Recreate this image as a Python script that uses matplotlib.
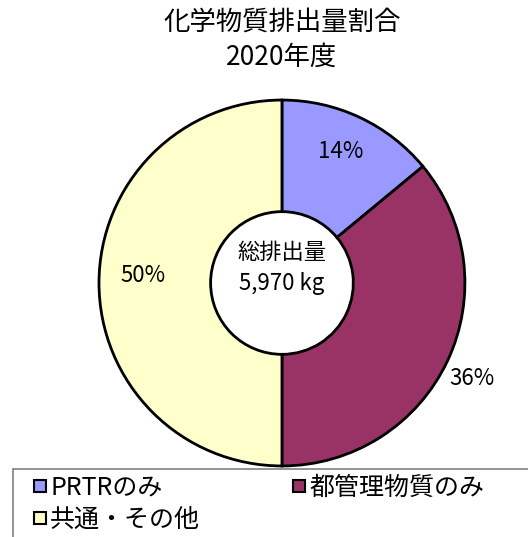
import matplotlib.pyplot as plt
from matplotlib.lines import Line2D
from matplotlib.patches import Rectangle

plt.rcParams['font.family'] = ['Noto Sans CJK JP', 'DejaVu Sans']

labels = ["PRTRのみ", "都管理物質のみ", "共通・その他"]
shares = [14, 36, 50]
colors = ["#9999FF", "#993366", "#FFFFCC"]
pct_text = ["14%", "36%", "50%"]
label_pos = [(0.32, 0.72), (1.04, -0.52), (-0.76, 0.04)]
total_text = "総排出量\n5,970 kg"

fig = plt.figure(figsize=(5.28, 5.37), dpi=100)
ax = fig.add_axes([0.1875, 0.132, 0.693, 0.682])

ax.pie(shares, colors=colors, startangle=90, counterclock=False, radius=1,
       wedgeprops=dict(width=0.61, edgecolor="black", linewidth=2))
ax.set_xlim(-1, 1)
ax.set_ylim(-1, 1)
ax.set_aspect("equal")

for t, (x, y) in zip(pct_text, label_pos):
    ax.text(x, y, t, ha="center", va="center", fontsize=16)

ax.text(0, 0.08, total_text, ha="center", va="center", fontsize=16, linespacing=1.45)

fig.text(0.534, 0.958, "化学物質排出量割合", ha="center", va="center", fontsize=19)
fig.text(0.534, 0.893, "2020年度", ha="center", va="center", fontsize=19)

# legend frame runs off the right and bottom edges
fig.add_artist(Rectangle((13 / 528, -0.05), 1.0, 0.05 + 1 - 469 / 537,
                         transform=fig.transFigure, facecolor="white",
                         edgecolor="#808080", linewidth=1.2))

handles = [Line2D([], [], marker="s", linestyle="none", markersize=8,
                  markerfacecolor=c, markeredgecolor="black", markeredgewidth=1.5)
           for c in colors]
order = [0, 2, 1]
leg = fig.legend([handles[i] for i in order], [labels[i] for i in order],
                 loc="upper left", ncol=2, bbox_to_anchor=(34 / 528, 1 - 475 / 537),
                 fontsize=18, frameon=False, handlelength=0.5, handletextpad=0.15,
                 borderpad=0, labelspacing=0.22, borderaxespad=0, columnspacing=3.7)

fig.savefig("out.png", dpi=100)
